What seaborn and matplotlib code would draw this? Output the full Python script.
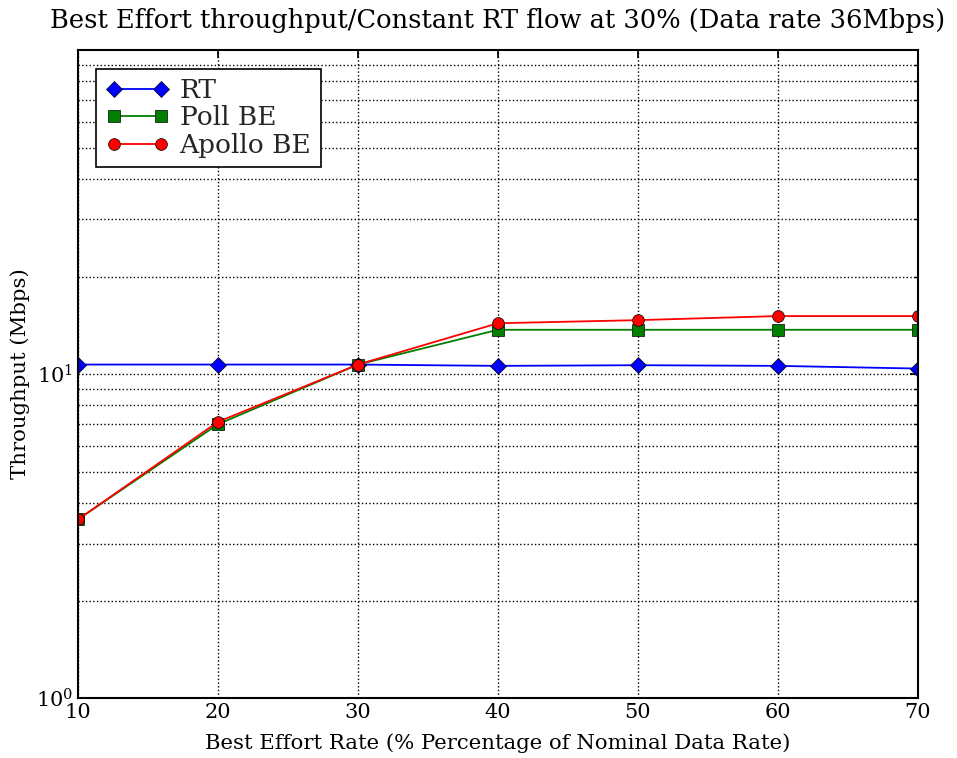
import pandas as pd
import numpy as np
import matplotlib
matplotlib.use("Agg")
import matplotlib.pyplot as plt
from matplotlib.lines import Line2D
import seaborn as sns

rates = [10, 20, 30, 40, 50, 60, 70]
rt = [10.7, 10.7, 10.7, 10.6, 10.65, 10.6, 10.4]
poll_be = [3.56, 7.0, 10.7, 13.7, 13.7, 13.7, 13.7]
apollo_be = [3.56, 7.12, 10.7, 14.35, 14.67, 15.1, 15.1]

series = {"RT": rt, "Poll BE": poll_be, "Apollo BE": apollo_be}
df = pd.concat([pd.DataFrame({"rate": rates, "thr": v, "name": k}) for k, v in series.items()],
               ignore_index=True)

sns.set_theme(style="white")
plt.rcParams['font.family'] = ['DejaVu Serif']
plt.rcParams['mathtext.fontset'] = 'dejavuserif'
plt.rcParams['xtick.direction'] = 'in'
plt.rcParams['ytick.direction'] = 'in'
plt.rcParams['xtick.top'] = True
plt.rcParams['ytick.right'] = True
plt.rcParams['xtick.major.size'] = 6
plt.rcParams['ytick.major.size'] = 6
plt.rcParams['ytick.minor.size'] = 3
plt.rcParams['ytick.minor.visible'] = True

fig = plt.figure(figsize=(9.57, 7.58), dpi=100)
ax = fig.add_axes([0.0815, 0.079, 0.8775, 0.855])

palette = {"RT": "blue", "Poll BE": "green", "Apollo BE": "red"}
markers = {"RT": "D", "Poll BE": "s", "Apollo BE": "o"}
sns.lineplot(data=df, x="rate", y="thr", hue="name", style="name", palette=palette,
             markers=markers, dashes=False, markersize=8.5, markeredgecolor="black",
             markeredgewidth=0.5, linewidth=1.3, ax=ax, legend=False)

ax.set_yscale("log")
ax.set_xlim(10, 70)
ax.set_ylim(1, 100)
ax.set_yticks([1, 10])
ax.set_xticks(rates)
ax.grid(True, which="both", color="black", linestyle=":", linewidth=1)
for s in ax.spines.values():
    s.set_color("black")
    s.set_linewidth(1.5)
ax.tick_params(which="both", colors="black", labelsize=15)

handles = [Line2D([0], [0], color=palette[k], marker=markers[k], markersize=8.5,
                  markeredgecolor="black", markeredgewidth=0.5, linewidth=1.3) for k in series]
leg = ax.legend(handles, list(series.keys()), loc="upper left", numpoints=2, fontsize=19,
                frameon=True, fancybox=False, edgecolor="black", framealpha=1,
                handlelength=2.4, handletextpad=0.4, labelspacing=0.1,
                borderpad=0.35, borderaxespad=0.7)
leg.get_frame().set_linewidth(1.2)

ax.set_xlabel("Best Effort Rate (% Percentage of Nominal Data Rate)", fontsize=15.3,
              color="black", labelpad=8)
ax.set_ylabel("Throughput (Mbps)", fontsize=15.3, color="black")
ax.set_title("Best Effort throughput/Constant RT flow at 30% (Data rate 36Mbps)", fontsize=18.5,
             color="black", pad=16)

fig.savefig("out.png", dpi=100, facecolor="white")
